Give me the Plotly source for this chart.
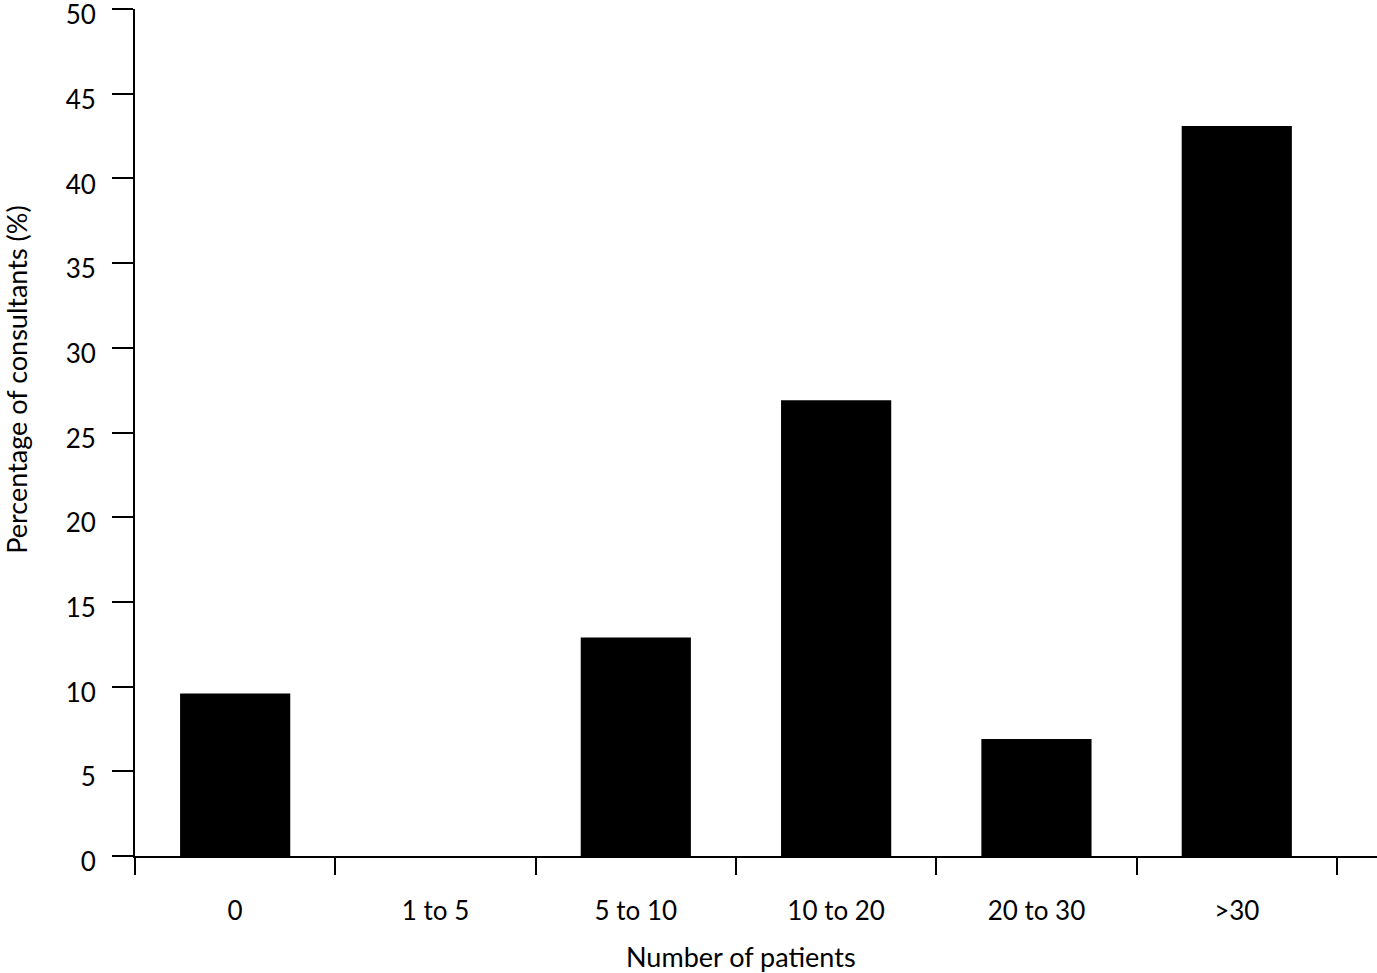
import plotly.graph_objects as go

categories = ["0", "1 to 5", "5 to 10", "10 to 20", "20 to 30", ">30"]
percentages = [9.6, 0, 12.9, 26.9, 6.9, 43.1]
y_ticks = [0, 5, 10, 15, 20, 25, 30, 35, 40, 45, 50]
x_title = "Number of patients"
y_title = "Percentage of consultants (%)"

xpos = list(range(len(categories)))
FONT = "Lato"

fig = go.Figure(
    go.Bar(
        x=xpos,
        y=percentages,
        width=0.55,
        marker=dict(color="black", line=dict(width=0)),
    )
)

fig.update_layout(
    width=1377,
    height=973,
    margin=dict(l=135, r=0, t=9, b=117),
    paper_bgcolor="white",
    plot_bgcolor="white",
    showlegend=False,
    font=dict(family=FONT, size=26, color="black"),
    annotations=[
        dict(
            text=x_title, xref="paper", yref="paper",
            x=0.4879, y=-0.119, xanchor="center", yanchor="middle",
            showarrow=False, font=dict(size=27),
        ),
        dict(
            text=y_title, xref="paper", yref="paper",
            x=-0.0950, y=0.5624, xanchor="center", yanchor="middle",
            textangle=-90, showarrow=False, font=dict(size=27),
        ),
    ],
)

fig.update_xaxes(
    range=[-0.5, 5.70],
    automargin=False,
    tickmode="array",
    tickvals=xpos,
    ticktext=categories,
    ticks="",
    ticklen=0,
    showline=True,
    linecolor="black",
    linewidth=2,
    showgrid=False,
    zeroline=False,
    minor=dict(
        tickmode="array",
        tickvals=[i - 0.5 for i in range(len(categories) + 1)],
        ticks="outside",
        ticklen=17,
        tickwidth=2,
        tickcolor="black",
        showgrid=False,
    ),
    ticklabelstandoff=31,
)

fig.update_yaxes(
    range=[0, 50],
    automargin=False,
    tickmode="array",
    tickvals=y_ticks,
    ticks="outside",
    ticklen=21,
    tickwidth=2,
    tickcolor="black",
    showline=True,
    linecolor="black",
    linewidth=2,
    showgrid=False,
    zeroline=False,
    ticklabelstandoff=11,
    ticklabelshift=6,
    ticklabeloverflow="allow",
)

fig.write_html(
    "out.html",
    config={"displayModeBar": False},
    post_script="document.body.style.margin='0';document.body.style.overflow='hidden';",
)
